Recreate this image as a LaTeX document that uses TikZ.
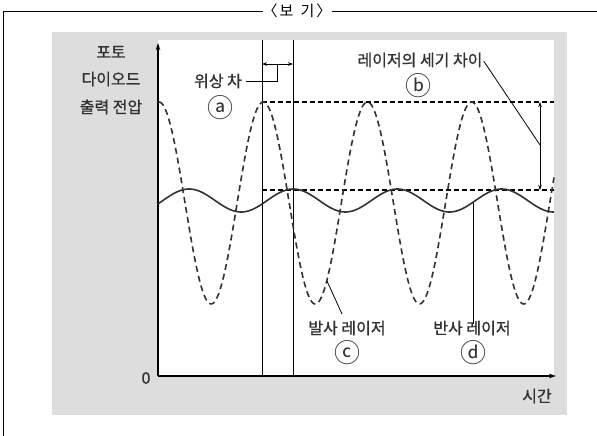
\documentclass[tikz,border=0pt]{standalone}
\usepackage{fontspec}
\setmainfont{Noto Sans CJK KR}
\newfontfamily\krfont{Noto Sans CJK KR}[FakeBold=0.9]
\usetikzlibrary{arrows.meta}
\definecolor{panel}{RGB}{221,221,221}
\definecolor{ink}{RGB}{50,50,50}
\begin{document}
\begin{tikzpicture}[x=1pt,y=-1pt,
  lbl/.style={text=ink,font=\krfont\fontsize{16}{16}\selectfont,inner sep=0pt},
  circ/.style={text=ink,font=\fontsize{26}{26}\selectfont,inner sep=0pt},
  ttl/.style={text=black,font=\fontsize{15}{15}\selectfont,inner sep=0pt},
  frameline/.style={draw=black,line width=1pt},
  axisline/.style={draw=black,line width=1.2pt,-{Stealth[length=7pt,width=4.5pt]}},
  thinline/.style={draw=black,line width=0.9pt},
  guide/.style={draw=black,line width=1.1pt,dash pattern=on 5pt off 3pt},
  leader/.style={draw=black,line width=0.8pt},
  dimarrow/.style={draw=black,line width=0.8pt,{Stealth[length=5pt,width=3.5pt]}-{Stealth[length=5pt,width=3.5pt]}},
  emitted/.style={draw=ink,line width=1.6pt,dash pattern=on 6pt off 4pt},
  reflected/.style={draw=ink,line width=1.6pt}]
\useasboundingbox (0,0) rectangle (597,436);
% panel
\fill[panel] (52,32) rectangle (567,415);
\fill[white] (158,40) rectangle (554,376);
% frame with title
\node[ttl] (title) at (297,11) {〈\hspace{2pt}보\hspace{7pt}기\hspace{2pt}〉};
\coordinate (fl) at (3,12);
\coordinate (fb) at (3,436);
\coordinate (fr) at (597,12);
\draw[frameline] (title.west |- fl) -- (fl) -- (fb);
\draw[frameline] (title.east |- fr) -- (fr);
% axes
\coordinate (O) at (158,376);
\coordinate (ytip) at (158,43);
\coordinate (xtip) at (556,376);
\draw[axisline] (O) -- (ytip);
\draw[axisline] (O) -- (xtip);
\node[lbl] (zero) at (146,378) {0};
\node[lbl] (time) at (537,396) {시간};
\node[lbl] (yl1) at (111,52) {포토};
\node[lbl] (yl2) at (111,79) {다이오드};
\node[lbl] (yl3) at (111,107) {출력 전압};
% vertical phase lines
\coordinate (v1t) at (262,40);
\coordinate (v1b) at (262,376);
\coordinate (v2t) at (293,40);
\coordinate (v2b) at (293,376);
\draw[thinline] (v1t) -- (v1b);
\draw[thinline] (v2t) -- (v2b);
\coordinate (pa) at (262,64);
\coordinate (pb) at (293,64);
\draw[dimarrow] (pa) -- (pb);
\node[lbl] (phase) at (218,81) {위상 차};
\node[circ] (ca) at (220,108) {ⓐ};
\coordinate (pk) at (277,81);
\coordinate (pm) at (277,64);
\draw[leader] ([xshift=4pt]phase.east) -- (pk) -- (pm);
% guide lines
\coordinate (h1a) at (262,102);
\coordinate (h1b) at (554,102);
\coordinate (h2a) at (262,190);
\coordinate (h2b) at (554,190);
\draw[guide] (h1a) -- (h1b);
\draw[guide] (h2a) -- (h2b);
% intensity difference
\coordinate (ia) at (540,102);
\coordinate (ib) at (540,190);
\draw[dimarrow] (ia) -- (ib);
\node[lbl] (intens) at (420,60) {레이저의 세기 차이};
\node[circ] (cb) at (418,86) {ⓑ};
\coordinate (im) at (540,145);
\draw[leader] ([xshift=1pt,yshift=-1pt]intens.east) -- (im);
% curves
\draw[emitted] plot[domain=159:554,samples=300] (\x,{203-101*cos((\x-159)*3.45489)});
\draw[reflected] plot[domain=158:554,samples=200] (\x,{200.5-11.5*cos((\x-189)*3.45489)});
% labels for curves
\node[lbl] (emit) at (347,328) {발사 레이저};
\node[circ] (cc) at (347,353) {ⓒ};
\coordinate (ec) at (327,281);
\draw[leader] (342,314) -- (ec);
\node[lbl] (refl) at (472,328) {반사 레이저};
\node[circ] (cd) at (473,353) {ⓓ};
\coordinate (rc) at (473,203);
\draw[leader] ([yshift=-3pt]refl.north -| rc) -- (rc);
\end{tikzpicture}
\end{document}
